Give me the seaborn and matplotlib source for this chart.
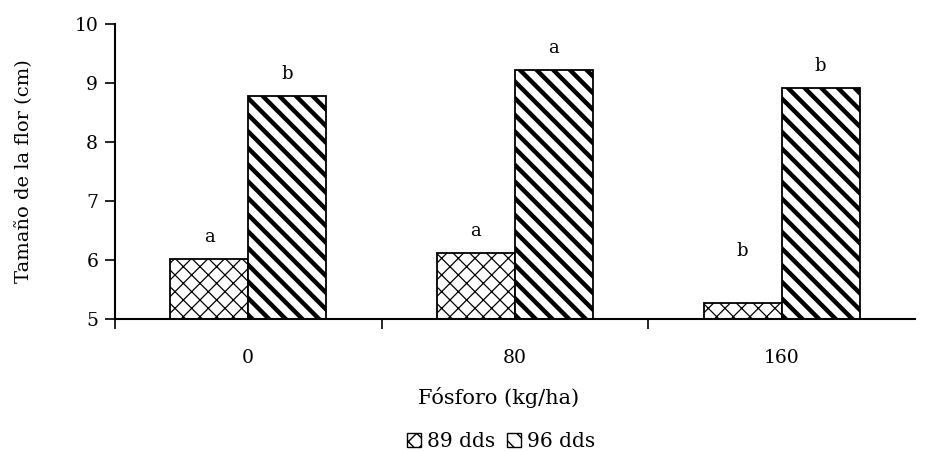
import matplotlib
matplotlib.use("Agg")
import matplotlib.pyplot as plt
from matplotlib.patches import Patch
import seaborn as sns
import pandas as pd

# Flower size by phosphorus dose, two sampling dates
dosis = ["0", "80", "160"]
fecha_89 = [6.02, 6.12, 5.27]
fecha_96 = [8.78, 9.22, 8.92]
letras_89 = ["a", "a", "b"]
letras_96 = ["b", "a", "b"]
series = ["89 dds", "96 dds"]
hatches = ["xx", "\\\\"]
hatch_lw = [0.9, 3.2]

df = pd.DataFrame({
    "dosis": dosis * 2,
    "valor": fecha_89 + fecha_96,
    "serie": [series[0]] * 3 + [series[1]] * 3,
})

sns.set_theme(style="white")
plt.rcParams["font.family"] = ["DejaVu Serif"]
plt.rcParams["text.color"] = "black"

fig = plt.figure(figsize=(9.26, 4.51), dpi=100)
ax = fig.add_axes([0.124, 0.293, 0.864, 0.654])

sns.barplot(data=df, x="dosis", y="valor", hue="serie", order=dosis,
            hue_order=series, palette=["white", "white"], width=0.585,
            edgecolor="black", linewidth=1.3, legend=False, ax=ax,
            errorbar=None)

for i, cont in enumerate(ax.containers):
    for bar in cont:
        bar.set_hatch(hatches[i])
        bar.set_edgecolor("black")
        bar.set_hatch_linewidth(hatch_lw[i])

# significance letters above each bar
for i, cont in enumerate(ax.containers):
    letras = letras_89 if i == 0 else letras_96
    for bar, letra in zip(cont, letras):
        x = bar.get_x() + bar.get_width() / 2
        y = bar.get_height()
        off = 0.22 if not (i == 0 and letra == "b") else 0.72
        ax.text(x, y + off, letra, ha="center", va="bottom", fontsize=13,
                color="black")

ax.set_ylim(5, 10)
ax.set_xlim(-0.5, 2.5)
ax.set_yticks([5, 6, 7, 8, 9, 10])
ax.set_xticks([0, 1, 2])
ax.set_xticks([-0.5, 0.5, 1.5], minor=True)
ax.tick_params(axis="x", which="major", length=0, pad=22, labelsize=13.5,
               colors="black")
ax.tick_params(axis="x", which="minor", length=7, width=1.2, direction="out",
               bottom=True, color="black")
ax.tick_params(axis="y", length=7, width=1.2, direction="out", left=True,
               labelsize=13.5, colors="black", pad=5)

for s in ["top", "right"]:
    ax.spines[s].set_visible(False)
for s in ["left", "bottom"]:
    ax.spines[s].set_color("black")
    ax.spines[s].set_linewidth(1.5)

ax.set_xlabel("Fósforo (kg/ha)", fontsize=15, color="black", labelpad=11)
ax.xaxis.set_label_coords(0.48, -0.23)
ax.set_ylabel("Tamaño de la flor (cm)", fontsize=14, color="black",
              labelpad=30)

handles = []
for h, lw in zip(hatches, hatch_lw):
    p = Patch(facecolor="white", edgecolor="black", hatch=h)
    p.set_hatch_linewidth(lw * 0.6)
    handles.append(p)
fig.legend(handles, series, loc="lower center", bbox_to_anchor=(0.541, -0.04),
           ncol=2, frameon=False, fontsize=14.5, handlelength=0.7,
           handleheight=0.7, handletextpad=0.3, columnspacing=0.6,
           labelcolor="black")

fig.savefig("out.png", dpi=100)
